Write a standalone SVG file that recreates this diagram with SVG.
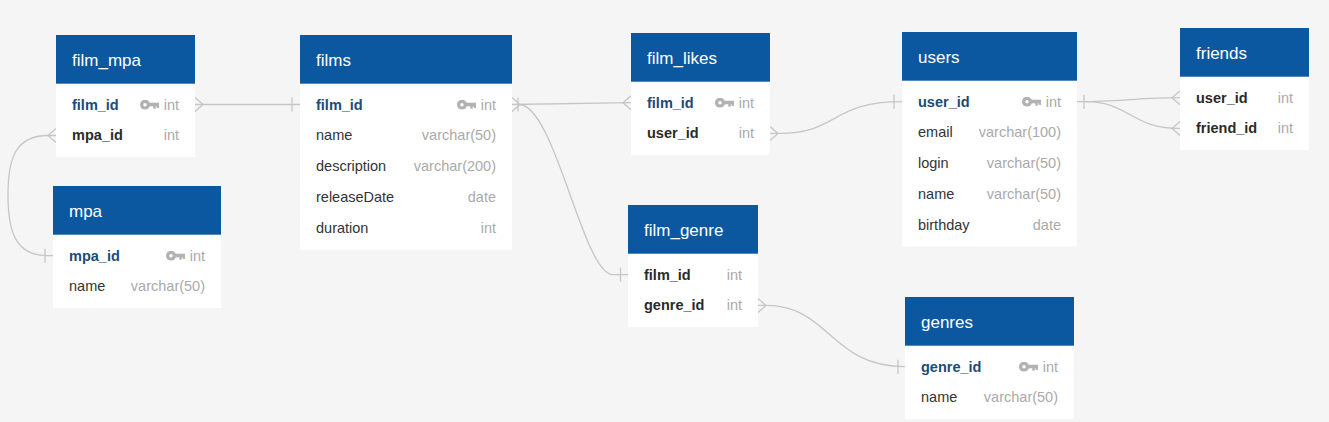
<svg xmlns="http://www.w3.org/2000/svg" xmlns:xlink="http://www.w3.org/1999/xlink" width="1329" height="422" viewBox="0 0 1329 422">
<style>
.bg{fill:#f5f5f5}
.body{fill:#ffffff}
.hdr{fill:#0b58a0}
.ht{font-family:"Liberation Sans",Arial,sans-serif;font-size:17px;fill:#ffffff}
.f{font-family:"Liberation Sans",Arial,sans-serif;font-size:14.5px;fill:#333333}
.pk{font-weight:bold;fill:#1b4b78}
.fk{font-weight:bold;fill:#2a2a2a}
.ty{font-family:"Liberation Sans",Arial,sans-serif;font-size:14.5px;fill:#aaaaaa;text-anchor:end}
.ln{fill:none;stroke:#c6c6c6;stroke-width:1.3}
</style>
<defs>
<symbol id="key" viewBox="0 0 19 10">
<circle cx="5" cy="5" r="5" fill="#b2b2b2"/>
<circle cx="5" cy="5" r="1.7" fill="#ffffff"/>
<rect x="9" y="3" width="10" height="3.6" fill="#b2b2b2"/>
<rect x="13.3" y="5" width="2.4" height="4" fill="#b2b2b2"/>
<rect x="16.6" y="5" width="2.4" height="3.2" fill="#b2b2b2"/>
</symbol>
</defs>
<rect class="bg" x="0" y="0" width="1329" height="422"/>

<g id="connectors">
<!-- film_mpa.film_id > films.film_id -->
<path class="ln" d="M195,104.5 L300,104.5"/>
<path class="ln" d="M195,97.5 L203,104.5 L195,111.5"/>
<path class="ln" d="M292,97.5 L292,111.5"/>
<!-- film_mpa.mpa_id > mpa.mpa_id -->
<path class="ln" d="M56,135.5 L48,135.5 C15,135.5 8,159 8,195 C8,231 15,255.7 48,255.7 L53,255.7"/>
<path class="ln" d="M56,128.5 L48,135.5 L56,142.5"/>
<path class="ln" d="M45,248.7 L45,262.7"/>
<!-- films.film_id - film_likes.film_id -->
<path class="ln" d="M512,104.5 L631,102.7"/>
<path class="ln" d="M631,95.7 L623,102.7 L631,109.7"/>
<path class="ln" d="M512,97.5 L520,104.5 L512,111.5"/>
<path class="ln" d="M518,97.5 L518,111.5"/>
<!-- films.film_id - film_genre.film_id -->
<path class="ln" d="M519,104.5 C555,104.5 583,274.7 613,274.7 L628,274.7"/>
<path class="ln" d="M620.5,267.7 L620.5,281.7"/>
<!-- film_likes.user_id > users.user_id -->
<path class="ln" d="M770,133.4 L778,133.4 C840,133.4 830,101.7 902,101.7"/>
<path class="ln" d="M770,126.4 L778,133.4 L770,140.4"/>
<path class="ln" d="M894,94.7 L894,108.7"/>
<!-- users.user_id - friends.user_id -->
<path class="ln" d="M1077,101.7 C1120,101.7 1140,97.7 1180,97.7"/>
<path class="ln" d="M1180,90.7 L1172,97.7 L1180,104.7"/>
<!-- users.user_id - friends.friend_id -->
<path class="ln" d="M1085,101.7 C1130,101.7 1130,128.4 1180,128.4"/>
<path class="ln" d="M1180,121.4 L1172,128.4 L1180,135.4"/>
<path class="ln" d="M1084,94.7 L1084,108.7"/>
<!-- film_genre.genre_id > genres.genre_id -->
<path class="ln" d="M758,305.4 L766,305.4 C830,305.4 830,366.7 905,366.7"/>
<path class="ln" d="M758,298.4 L766,305.4 L758,312.4"/>
<path class="ln" d="M898,359.7 L898,373.7"/>
</g>

<g id="film_mpa">
<rect class="body" x="56" y="35" width="139" height="122"/>
<rect class="hdr" x="56" y="35" width="139" height="48.7"/>
<text class="ht" x="72" y="65.5">film_mpa</text>
<text class="f pk" x="72" y="109.7">film_id</text>
<use href="#key" xlink:href="#key" x="140" y="99.7" width="19" height="10"/>
<text class="ty" x="179" y="109.7">int</text>
<text class="f fk" x="72" y="140.4">mpa_id</text>
<text class="ty" x="179" y="140.4">int</text>
</g>

<g id="films">
<rect class="body" x="300" y="35" width="212" height="214.5"/>
<rect class="hdr" x="300" y="35" width="212" height="48.7"/>
<text class="ht" x="316" y="65.5">films</text>
<text class="f pk" x="316" y="109.7">film_id</text>
<use href="#key" xlink:href="#key" x="457" y="99.7" width="19" height="10"/>
<text class="ty" x="496" y="109.7">int</text>
<text class="f" x="316" y="140.4">name</text>
<text class="ty" x="496" y="140.4">varchar(50)</text>
<text class="f" x="316" y="171.1">description</text>
<text class="ty" x="496" y="171.1">varchar(200)</text>
<text class="f" x="316" y="201.8">releaseDate</text>
<text class="ty" x="496" y="201.8">date</text>
<text class="f" x="316" y="232.5">duration</text>
<text class="ty" x="496" y="232.5">int</text>
</g>

<g id="mpa">
<rect class="body" x="53" y="186" width="168" height="122"/>
<rect class="hdr" x="53" y="186" width="168" height="48.7"/>
<text class="ht" x="69" y="216.5">mpa</text>
<text class="f pk" x="69" y="260.7">mpa_id</text>
<use href="#key" xlink:href="#key" x="166" y="250.7" width="19" height="10"/>
<text class="ty" x="205" y="260.7">int</text>
<text class="f" x="69" y="291.4">name</text>
<text class="ty" x="205" y="291.4">varchar(50)</text>
</g>

<g id="film_likes">
<rect class="body" x="631" y="33" width="139" height="122"/>
<rect class="hdr" x="631" y="33" width="139" height="48.7"/>
<text class="ht" x="647" y="63.5">film_likes</text>
<text class="f pk" x="647" y="107.7">film_id</text>
<use href="#key" xlink:href="#key" x="715" y="97.7" width="19" height="10"/>
<text class="ty" x="754" y="107.7">int</text>
<text class="f fk" x="647" y="138.4">user_id</text>
<text class="ty" x="754" y="138.4">int</text>
</g>

<g id="film_genre">
<rect class="body" x="628" y="205" width="130" height="122"/>
<rect class="hdr" x="628" y="205" width="130" height="48.7"/>
<text class="ht" x="644" y="235.5">film_genre</text>
<text class="f fk" x="644" y="279.7">film_id</text>
<text class="ty" x="742" y="279.7">int</text>
<text class="f fk" x="644" y="310.4">genre_id</text>
<text class="ty" x="742" y="310.4">int</text>
</g>

<g id="users">
<rect class="body" x="902" y="32" width="175" height="214.5"/>
<rect class="hdr" x="902" y="32" width="175" height="48.7"/>
<text class="ht" x="918" y="62.5">users</text>
<text class="f pk" x="918" y="106.7">user_id</text>
<use href="#key" xlink:href="#key" x="1022" y="96.7" width="19" height="10"/>
<text class="ty" x="1061" y="106.7">int</text>
<text class="f" x="918" y="137.4">email</text>
<text class="ty" x="1061" y="137.4">varchar(100)</text>
<text class="f" x="918" y="168.1">login</text>
<text class="ty" x="1061" y="168.1">varchar(50)</text>
<text class="f" x="918" y="198.8">name</text>
<text class="ty" x="1061" y="198.8">varchar(50)</text>
<text class="f" x="918" y="229.5">birthday</text>
<text class="ty" x="1061" y="229.5">date</text>
</g>

<g id="friends">
<rect class="body" x="1180" y="28" width="129" height="122"/>
<rect class="hdr" x="1180" y="28" width="129" height="48.7"/>
<text class="ht" x="1196" y="58.5">friends</text>
<text class="f fk" x="1196" y="102.7">user_id</text>
<text class="ty" x="1293" y="102.7">int</text>
<text class="f fk" x="1196" y="133.4">friend_id</text>
<text class="ty" x="1293" y="133.4">int</text>
</g>

<g id="genres">
<rect class="body" x="905" y="297" width="169" height="122"/>
<rect class="hdr" x="905" y="297" width="169" height="48.7"/>
<text class="ht" x="921" y="327.5">genres</text>
<text class="f pk" x="921" y="371.7">genre_id</text>
<use href="#key" xlink:href="#key" x="1019" y="361.7" width="19" height="10"/>
<text class="ty" x="1058" y="371.7">int</text>
<text class="f" x="921" y="402.4">name</text>
<text class="ty" x="1058" y="402.4">varchar(50)</text>
</g>
</svg>
